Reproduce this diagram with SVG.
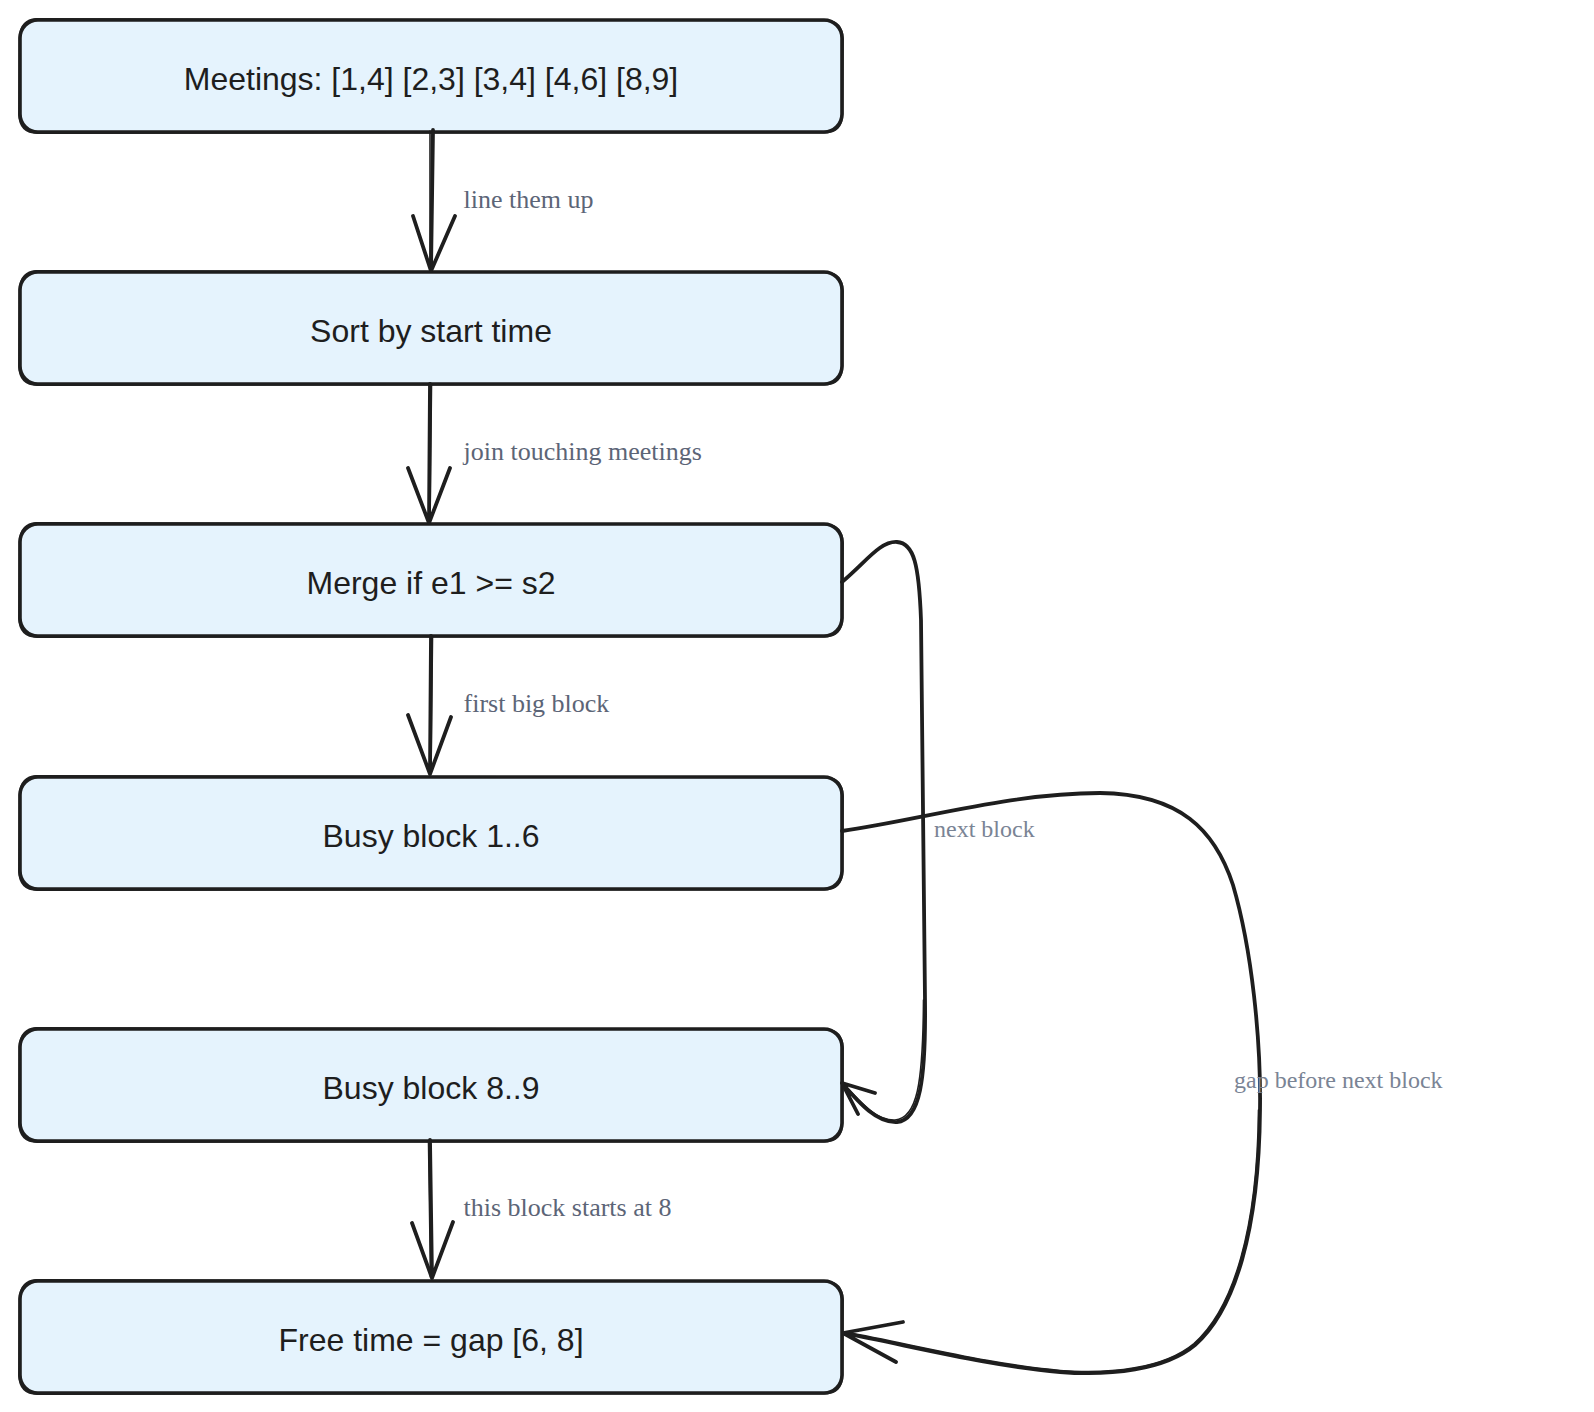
<svg xmlns="http://www.w3.org/2000/svg" xmlns:xlink="http://www.w3.org/1999/xlink" width="1594" height="1412" viewBox="0 0 1594 1412">
<style>
.box{fill:#E5F3FD;stroke:#1e1e1e;stroke-width:3.6}
.sk{fill:none;stroke:#1e1e1e;stroke-width:1.8;stroke-linecap:round}
.nt{font-family:"Liberation Sans",Arial,Helvetica,sans-serif;font-size:32px;fill:#1e1e1e;text-anchor:middle}
.lb{font-family:"Liberation Serif","Times New Roman",serif;font-size:26px;fill:#5c6577}
.lb2{font-family:"Liberation Serif","Times New Roman",serif;font-size:24px;fill:#7a8495}
.ln{fill:none;stroke:#1e1e1e;stroke-width:3.8;stroke-linecap:round;stroke-linejoin:round}
.ln2{fill:none;stroke:#1e1e1e;stroke-width:1.6;stroke-linecap:round}
</style>
<defs>
<path id="sk" d="M36 -1 L826 0.5 Q842 1 843 19 L842.5 94 Q842 113 824 112.5 L37 113 Q20 113 19 95 L19.5 17 Q21 0 36 -1 Z"/>
</defs>
<rect width="1594" height="1412" fill="#ffffff"/>

<g id="n1">
<rect class="box" x="20" y="20" width="822" height="112" rx="18"/>
<use class="sk" xlink:href="#sk" y="20"/>
<text class="nt" x="431" y="89.5">Meetings: [1,4] [2,3] [3,4] [4,6] [8,9]</text>
</g>
<g id="n2">
<rect class="box" x="20" y="272" width="822" height="112" rx="18"/>
<use class="sk" xlink:href="#sk" y="272"/>
<text class="nt" x="431" y="341.5">Sort by start time</text>
</g>
<g id="n3">
<rect class="box" x="20" y="524" width="822" height="112" rx="18"/>
<use class="sk" xlink:href="#sk" y="524"/>
<text class="nt" x="431" y="593.5">Merge if e1 &gt;= s2</text>
</g>
<g id="n4">
<rect class="box" x="20" y="777" width="822" height="112" rx="18"/>
<use class="sk" xlink:href="#sk" y="777"/>
<text class="nt" x="431" y="846.5">Busy block 1..6</text>
</g>
<g id="n5">
<rect class="box" x="20" y="1029" width="822" height="112" rx="18"/>
<use class="sk" xlink:href="#sk" y="1029"/>
<text class="nt" x="431" y="1098.5">Busy block 8..9</text>
</g>
<g id="n6">
<rect class="box" x="20" y="1281" width="822" height="112" rx="18"/>
<use class="sk" xlink:href="#sk" y="1281"/>
<text class="nt" x="431" y="1350.5">Free time = gap [6, 8]</text>
</g>

<g id="connectors">
<!-- n1 -> n2 -->
<path class="ln" d="M433 130 L431 271 M413 216 L431 271 L455 216"/>
<path class="ln2" d="M430 131 L430 270"/>
<text class="lb" x="463.5" y="208">line them up</text>
<!-- n2 -> n3 -->
<path class="ln" d="M430 384 L429 523 M408 468 L429 523 L450 468"/>
<path class="ln2" d="M431.5 385 L430 522"/>
<text class="lb" x="463.5" y="460">join touching meetings</text>
<!-- n3 -> n4 -->
<path class="ln" d="M431 636 L430 774 M408 715 L430 774 L451 717"/>
<path class="ln2" d="M432.5 637 L431 773"/>
<text class="lb" x="463.5" y="712">first big block</text>
<!-- n5 -> n6 -->
<path class="ln" d="M430 1140 L432 1278 M412 1223 L432 1278 L453 1222"/>
<path class="ln2" d="M428.5 1141 L430.5 1277"/>
<text class="lb" x="463.5" y="1216">this block starts at 8</text>
<!-- n3 -> n5 (next block) -->
<path class="ln" d="M842 582 C866 562 880 541 897 542 C914 543 919 565 921 620 C923 760 925 900 925 1000 C926 1080 920 1120 897 1122 C877 1123 860 1104 842 1083 M875 1093 L842 1083 L858 1114"/>
<path class="ln2" d="M923.5 1000 C923 1085 917 1118 895 1120 C876 1121 862 1103 845 1086"/>
<text class="lb2" x="934" y="837">next block</text>
<!-- n4 -> n6 (gap before next block) -->
<path class="ln" d="M842 831 C920 820 1010 793 1100 793 C1180 794 1215 830 1233 885 C1252 950 1261 1040 1260 1110 C1259 1230 1235 1310 1195 1345 C1165 1370 1110 1376 1060 1372 C990 1366 920 1348 843 1333 M903 1322 L843 1333 L896 1362"/>
<path class="ln2" d="M1258.5 1110 C1257.5 1228 1234 1308 1194 1343.5 C1164 1368.5 1110 1374.5 1060 1370.5 C992 1364.5 922 1346.5 846 1332"/>
<text class="lb2" x="1234" y="1088">gap before next block</text>
</g>
</svg>
